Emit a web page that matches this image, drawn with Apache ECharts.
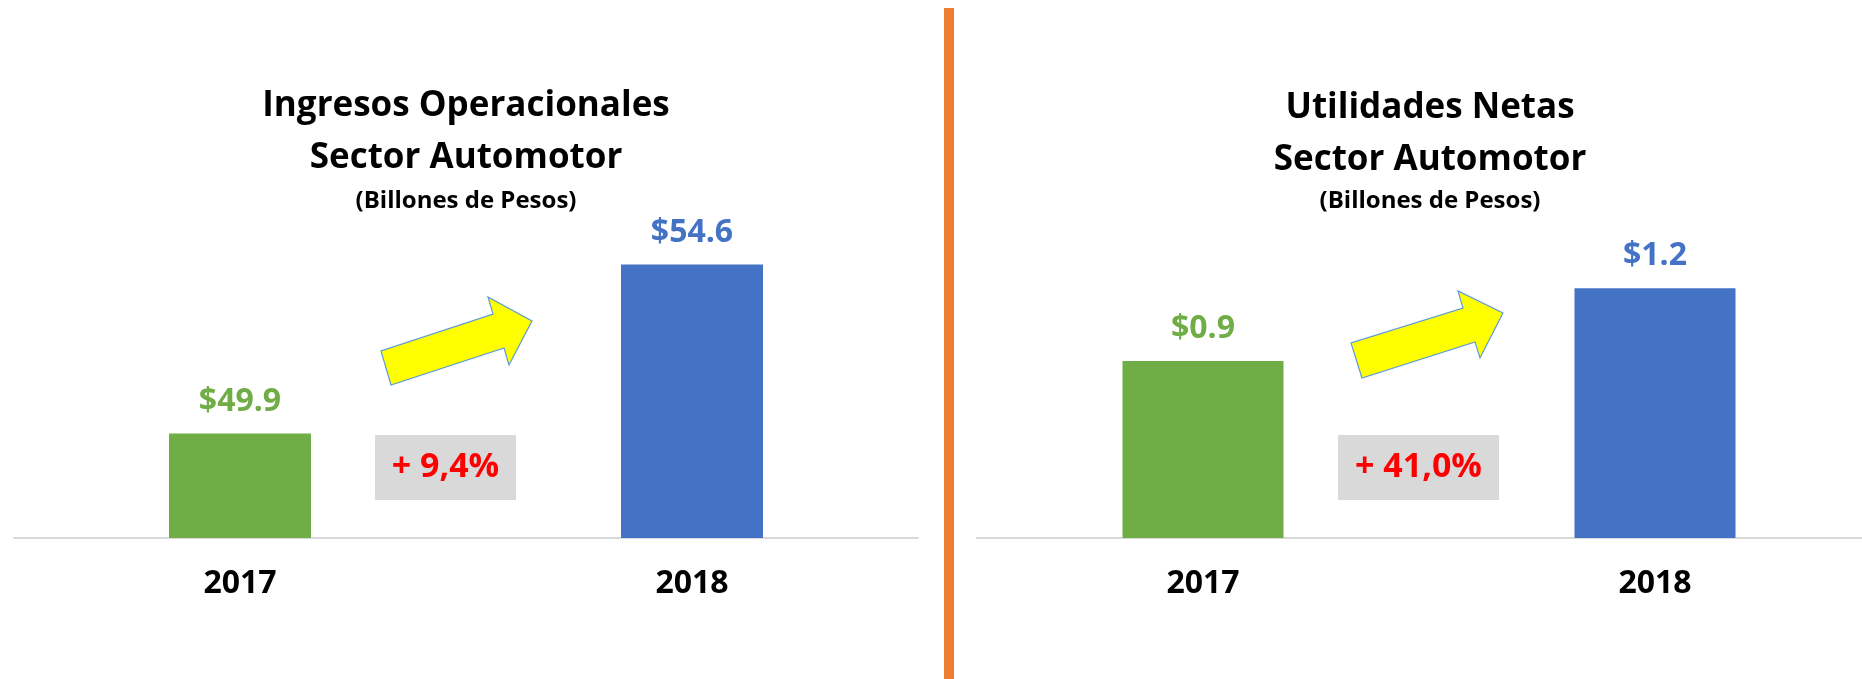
<!DOCTYPE html>
<html>
<head>
<meta charset="utf-8">
<title>Sector Automotor</title>
<script src="https://cdn.jsdelivr.net/npm/echarts@6/dist/echarts.min.js"></script>
<style>
  html, body { margin: 0; padding: 0; background: #fff; }
  #chart { width: 1862px; height: 679px; }
</style>
</head>
<body>
<div id="chart"></div>
<script>
// datos
const years = ['2017', '2018'];
const ingresos = [49.9, 54.6];        // billones de pesos
const utilidades = [0.87, 1.227];     // billones de pesos
const barColors = ['#70AD47', '#4472C4'];
const crecimiento = ['+ 9,4%', '+ 41,0%'];

const font = '"Open Sans", "Noto Sans", sans-serif';

function barSeries(idx, values, width) {
  return {
    type: 'bar',
    xAxisIndex: idx,
    yAxisIndex: idx,
    // cada barra con su color y el de su label
    data: values.map((v, i) => ({
      value: v,
      itemStyle: { color: barColors[i] },
      label: { color: barColors[i] }
    })),
    barWidth: width,
    label: {
      show: true,
      position: 'top',
      distance: 16,
      fontFamily: font,
      fontWeight: 'bold',
      fontSize: 32,
      formatter: p => '$' + p.value.toFixed(1)
    }
  };
}

function xAxis(idx) {
  return {
    gridIndex: idx,
    type: 'category',
    data: years,
    axisTick: { show: false },
    axisLine: { lineStyle: { color: '#D9D9D9', width: 2 } },
    axisLabel: {
      margin: 30,
      fontFamily: font,
      fontWeight: 'bold',
      fontSize: 32,
      color: '#000'
    }
  };
}

function arrow(pts) {
  return {
    type: 'polygon',
    shape: { points: pts },
    style: { fill: '#FFFF00', stroke: '#5B9BD5', lineWidth: 1.2 },
    z: 10
  };
}

function box(x, y, w, h, txt) {
  return {
    type: 'group',
    children: [
      { type: 'rect', shape: { x: x, y: y, width: w, height: h }, style: { fill: '#D9D9D9' } },
      {
        type: 'text',
        x: x + w / 2,
        y: y + h / 2,
        style: {
          text: txt,
          fill: '#FF0000',
          font: 'bold 34px ' + font,
          align: 'center',
          verticalAlign: 'middle'
        }
      }
    ]
  };
}

const titleStyle = { fontFamily: font, fontWeight: 'bold', fontSize: 35, lineHeight: 52, color: '#000' };
const subStyle = { fontFamily: font, fontWeight: 'bold', fontSize: 24, lineHeight: 28, color: '#000' };

const option = {
  animation: false,
  title: [
    { text: 'Ingresos Operacionales\nSector Automotor', left: 466, top: 80, textAlign: 'center', textStyle: titleStyle, padding: 0 },
    { text: '(Billones de Pesos)', left: 466, top: 187, textAlign: 'center', textStyle: subStyle, padding: 0 },
    { text: 'Utilidades Netas\nSector Automotor', left: 1430, top: 82, textAlign: 'center', textStyle: titleStyle, padding: 0 },
    { text: '(Billones de Pesos)', left: 1430, top: 187, textAlign: 'center', textStyle: subStyle, padding: 0 }
  ],
  // la grilla derecha sale un poco del lienzo, como en la imagen original
  grid: [
    { left: 14, width: 904, top: 250, bottom: 141, outerBoundsMode: 'none', containLabel: false },
    { left: 977, width: 904, top: 253, bottom: 141, outerBoundsMode: 'none', containLabel: false }
  ],
  xAxis: [xAxis(0), xAxis(1)],
  yAxis: [
    { gridIndex: 0, type: 'value', min: 47, max: 55, show: false, splitLine: { show: false } },
    { gridIndex: 1, type: 'value', min: 0, max: 1.4, show: false, splitLine: { show: false } }
  ],
  series: [barSeries(0, ingresos, 142), barSeries(1, utilidades, 161)],
  graphic: [
    // separador naranja
    { type: 'rect', shape: { x: 944, y: 8, width: 10, height: 680 }, style: { fill: '#ED7D31' } },
    arrow([[391, 385], [381, 351], [493, 314], [488, 297], [532, 321], [509, 365], [504, 348]]),
    arrow([[1362, 378], [1351, 343], [1463, 308], [1458, 291], [1503, 313], [1480, 358], [1475, 342]]),
    box(375, 435, 141, 65, crecimiento[0]),
    box(1338, 435, 161, 65, crecimiento[1])
  ]
};

const chart = echarts.init(document.getElementById('chart'));
chart.setOption(option);
</script>
</body>
</html>
